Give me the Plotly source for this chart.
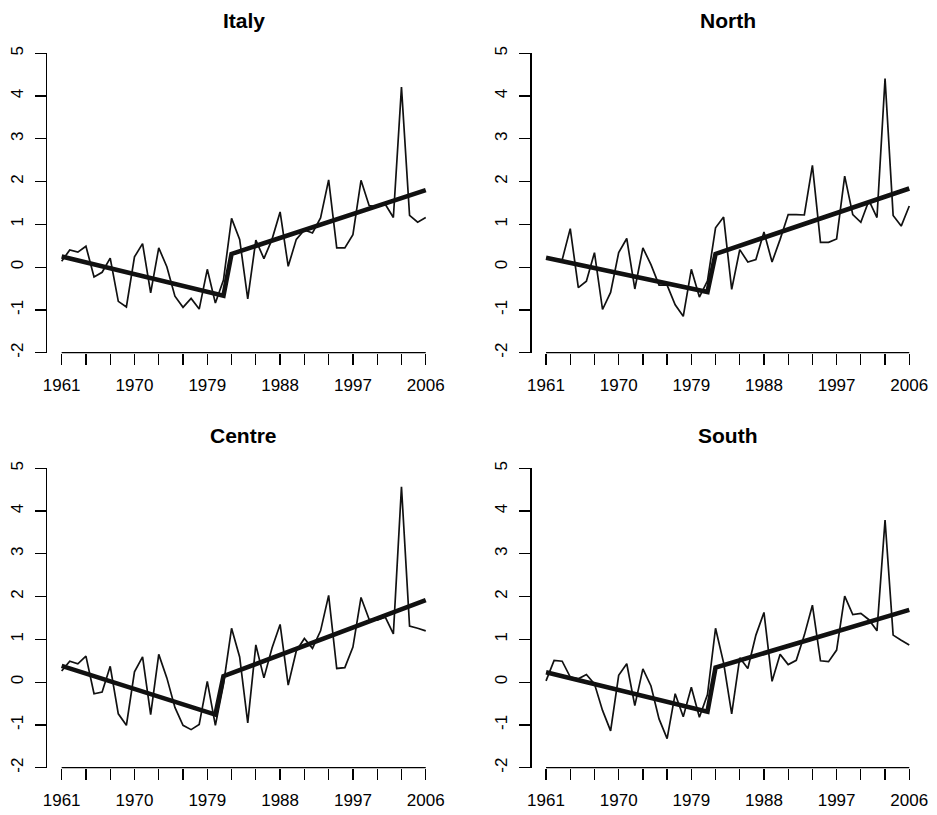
import plotly.graph_objects as go

years = list(range(1961, 2007))

italy = [0.14, 0.40, 0.35, 0.49, -0.23, -0.12, 0.21, -0.80, -0.93, 0.24,
         0.55, -0.60, 0.45, 0.01, -0.68, -0.94, -0.73, -0.98, -0.05, -0.84,
         -0.30, 1.14, 0.65, -0.74, 0.63, 0.20, 0.65, 1.29, 0.02, 0.65,
         0.87, 0.80, 1.15, 2.04, 0.45, 0.45, 0.76, 2.03, 1.44, 1.41,
         1.47, 1.16, 4.21, 1.21, 1.05, 1.16]
north = [0.20, 0.19, 0.17, 0.90, -0.48, -0.33, 0.34, -0.99, -0.59, 0.34,
         0.67, -0.51, 0.45, 0.06, -0.42, -0.42, -0.88, -1.15, -0.05, -0.70,
         -0.32, 0.92, 1.17, -0.52, 0.41, 0.12, 0.18, 0.82, 0.12, 0.65,
         1.23, 1.23, 1.22, 2.38, 0.58, 0.58, 0.66, 2.13, 1.23, 1.05,
         1.56, 1.16, 4.41, 1.21, 0.96, 1.43]
centre = [0.26, 0.49, 0.43, 0.61, -0.27, -0.23, 0.37, -0.74, -1.01, 0.24,
          0.59, -0.76, 0.65, 0.10, -0.59, -1.01, -1.11, -0.99, 0.02, -1.01,
          -0.05, 1.26, 0.59, -0.95, 0.87, 0.10, 0.80, 1.35, -0.07, 0.73,
          1.02, 0.79, 1.20, 2.03, 0.32, 0.34, 0.82, 1.98, 1.47, 1.45,
          1.52, 1.13, 4.57, 1.31, 1.26, 1.20]
south = [0.03, 0.51, 0.49, 0.12, 0.08, 0.18, -0.04, -0.66, -1.14, 0.16,
         0.43, -0.55, 0.31, -0.09, -0.86, -1.32, -0.27, -0.81, -0.12, -0.82,
         -0.29, 1.26, 0.45, -0.74, 0.57, 0.32, 1.10, 1.63, 0.02, 0.65,
         0.41, 0.51, 1.10, 1.80, 0.50, 0.48, 0.75, 2.01, 1.58, 1.61,
         1.46, 1.20, 3.79, 1.10, 0.98, 0.87]

italy_trend_years = [1961, 1981, 1982, 2006]
italy_trend = [0.25, -0.67, 0.31, 1.80]
north_trend_years = [1961, 1981, 1982, 2006]
north_trend = [0.22, -0.58, 0.31, 1.84]
centre_trend_years = [1961, 1980, 1981, 2006]
centre_trend = [0.38, -0.76, 0.14, 1.92]
south_trend_years = [1961, 1981, 1982, 2006]
south_trend = [0.23, -0.69, 0.34, 1.69]

titles = ["Italy", "North", "Centre", "South"]
x_tickvals = list(range(1961, 2007, 3))
x_ticktext = [str(v) if (v - 1961) % 9 == 0 else "" for v in x_tickvals]
y_tickvals = [-2, -1, 0, 1, 2, 3, 4, 5]
y_ticktext = ["-2", "-1", "0", "1", "2", "3", "4", "5"]

W, H = 937, 815
FONT = "Liberation Sans, Arial, Helvetica, sans-serif"

panels = [
    (italy, italy_trend_years, italy_trend, (47.1, 440.3), (53.3, 352.7)),
    (north, north_trend_years, north_trend, (531.5, 923.8), (53.3, 352.7)),
    (centre, centre_trend_years, centre_trend, (47.1, 440.3), (468.3, 767.7)),
    (south, south_trend_years, south_trend, (531.5, 923.8), (468.3, 767.7)),
]

fig = go.Figure()
layout = dict(
    width=W, height=H,
    margin=dict(l=0, r=0, t=0, b=0),
    paper_bgcolor="white", plot_bgcolor="white",
    showlegend=False,
    font=dict(family=FONT, color="black"),
)
annotations = []
shapes = []
for k, (vals, ty, tv, (xl, xr), (yt, yb)) in enumerate(panels):
    n = "" if k == 0 else str(k + 1)
    xa, ya = "x" + n, "y" + n
    fig.add_trace(go.Scatter(x=years, y=vals, mode="lines",
                             line=dict(color="#111111", width=1.7),
                             xaxis=xa, yaxis=ya, hoverinfo="skip"))
    fig.add_trace(go.Scatter(x=ty, y=tv, mode="lines",
                             line=dict(color="#111111", width=4.6),
                             xaxis=xa, yaxis=ya, hoverinfo="skip"))
    layout["xaxis" + n] = dict(
        domain=[xl / W, xr / W], range=[1959.2, 2007.8], anchor=ya,
        tickmode="array", tickvals=x_tickvals, ticktext=x_ticktext,
        ticks="outside", ticklen=11, tickwidth=1.3, tickcolor="black",
        showline=False, showgrid=False, zeroline=False,
        tickfont=dict(size=17, family=FONT, color="black"),
        ticklabelstandoff=6, automargin=False, fixedrange=True,
    )
    layout["yaxis" + n] = dict(
        domain=[1 - yb / H, 1 - yt / H], range=[-2, 5], anchor=xa,
        tickmode="array", tickvals=y_tickvals, ticktext=y_ticktext,
        ticks="outside", ticklen=11, tickwidth=1.3, tickcolor="black",
        showline=True, linecolor="black", linewidth=1.3,
        showgrid=False, zeroline=False, tickangle=-90,
        tickfont=dict(size=17, family=FONT, color="black"),
        ticklabelstandoff=5, automargin=False, fixedrange=True,
    )
    shapes.append(dict(type="line", xref=xa, yref=ya + " domain",
                       x0=1961, x1=2006, y0=0, y1=0,
                       line=dict(color="black", width=1.3)))
    annotations.append(dict(text="<b>" + titles[k] + "</b>",
                            xref="paper", yref="paper",
                            x=(xl + xr) / 2 / W, y=1 - (yt - 33) / H,
                            xanchor="center", yanchor="middle",
                            showarrow=False,
                            font=dict(size=21, family=FONT, color="black")))
layout["annotations"] = annotations
layout["shapes"] = shapes
fig.update_layout(**layout)
fig.write_html("out.html",
               config={"displayModeBar": False, "staticPlot": True},
               post_script="document.body.style.margin='0';"
                           "document.body.style.overflow='hidden';")
